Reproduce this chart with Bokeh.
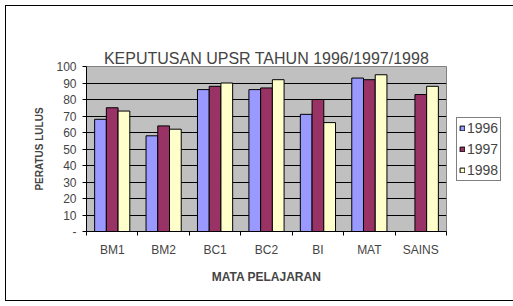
from bokeh.plotting import figure
from bokeh.models import FixedTicker, Legend, LegendItem, Range1d, LinearAxis, Title
from bokeh.embed import file_html
from bokeh.resources import INLINE

categories = ["BM1", "BM2", "BC1", "BC2", "BI", "MAT", "SAINS"]
years = ["1996", "1997", "1998"]
y1996 = [68, 58, 86, 86, 71, 93, float("nan")]
y1997 = [75, 64, 88, 87, 80, 92, 83]
y1998 = [73, 62, 90, 92, 66, 95, 88]
y_ticks = [0, 10, 20, 30, 40, 50, 60, 70, 80, 90, 100]

series = [y1996, y1997, y1998]
colors = ["#9999FF", "#993366", "#FFFFCC"]
bar_w = 0.228
offsets = [-bar_w, 0.0, bar_w]

FONT = "Liberation Sans"

p = figure(frame_width=360, frame_height=165, output_backend="svg", toolbar_location=None,
           x_range=Range1d(0, len(categories)), y_range=Range1d(0, 100),
           min_border_left=80, min_border_right=62, min_border_top=60, min_border_bottom=69)
p.styles = {"margin-left": "5px", "margin-top": "5px", "border": "1px solid black"}

title = Title(text="KEPUTUSAN UPSR TAHUN 1996/1997/1998", align="center",
              text_font=FONT, text_font_size="16px", text_font_style="normal",
              standoff=0)

# invisible spacer between plot area and title
spacer = LinearAxis(ticker=FixedTicker(ticks=[]), major_tick_out=32, major_tick_in=0,
                    axis_line_color=None, major_tick_line_color=None,
                    minor_tick_line_color=None, major_label_standoff=0,
                    axis_label_standoff=0)
p.title = None
p.above = [title, spacer]

p.background_fill_color = "#C0C0C0"
p.border_fill_color = "white"
p.outline_line_color = "#808080"

centers = [i + 0.5 for i in range(len(categories))]
renderers = []
for vals, col, off in zip(series, colors, offsets):
    xs = [c + off for c in centers]
    r = p.vbar(x=xs, top=vals, width=bar_w, bottom=0, fill_color=col,
               line_color="black", line_width=1)
    renderers.append(r)

p.xgrid.visible = False
p.ygrid.grid_line_color = "black"
p.ygrid.grid_line_width = 1

# x axis
xa = p.below[0]
xa.ticker = FixedTicker(ticks=centers, minor_ticks=list(range(len(categories) + 1)))
xa.major_label_overrides = {c: name for c, name in zip(centers, categories)}
xa.major_tick_out = 0
xa.major_tick_in = 0
xa.minor_tick_out = 4
xa.minor_tick_in = 0
xa.minor_tick_line_color = "black"
xa.axis_line_color = "black"
xa.major_label_text_font = FONT
xa.major_label_text_font_size = "12px"
xa.major_label_standoff = 7
xa.axis_label = "MATA PELAJARAN"
xa.axis_label_text_font = FONT
xa.axis_label_text_font_size = "12px"
xa.axis_label_text_font_style = "bold"
xa.axis_label_standoff = 10

# y axis
ya = p.left[0]
ya.ticker = FixedTicker(ticks=y_ticks, minor_ticks=[])
ya.major_label_overrides = {0: "-"}
ya.major_tick_out = 4
ya.major_tick_in = 0
ya.axis_line_color = "black"
ya.major_label_text_font = FONT
ya.major_label_text_font_size = "12px"
ya.major_label_standoff = 6
ya.axis_label = "PERATUS LULUS"
ya.axis_label_text_font = FONT
ya.axis_label_text_font_size = "10px"
ya.axis_label_text_font_style = "bold"
ya.axis_label_standoff = 8

legend = Legend(items=[LegendItem(label=y, renderers=[r]) for y, r in zip(years, renderers)],
                location="left")
legend.border_line_color = "black"
legend.border_line_width = 1
legend.background_fill_color = "white"
legend.background_fill_alpha = 1
legend.label_text_font = FONT
legend.label_text_font_size = "14px"
legend.glyph_width = 6
legend.glyph_height = 6
legend.label_standoff = 2
legend.label_height = 14
legend.spacing = 5
legend.padding = 2
legend.margin = 10
p.add_layout(legend, "right")

open("out.html", "w").write(file_html(p, INLINE))
